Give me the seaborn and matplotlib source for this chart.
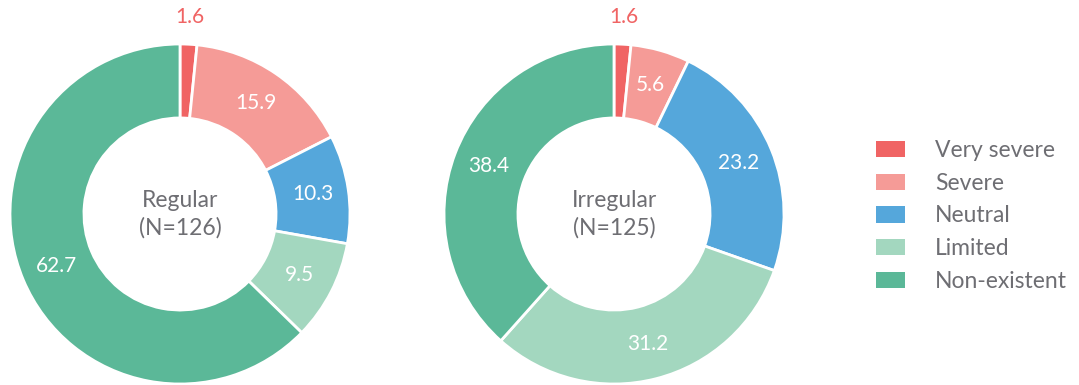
import matplotlib
matplotlib.use("Agg")
import matplotlib.pyplot as plt
import numpy as np
import seaborn as sns
from matplotlib.patches import Patch

# Severity categories and shares (%) for each group
categories = ["Very severe", "Severe", "Neutral", "Limited", "Non-existent"]
regular_values = [1.6, 15.9, 10.3, 9.5, 62.7]
irregular_values = [1.6, 5.6, 23.2, 31.2, 38.4]
group_titles = ["Regular\n(N=126)", "Irregular\n(N=125)"]

colors = ["#F06464", "#F59B97", "#55A7DB", "#A3D7BF", "#5BB898"]
text_gray = "#6E6E73"

sns.set_theme(style="white")
plt.rcParams["font.family"] = ["Lato", "DejaVu Sans"]

W, H = 1079, 385
fig = plt.figure(figsize=(W / 100, H / 100), dpi=100)


def donut(cx, cy, r, values, title):
    ax = fig.add_axes([(cx - r) / W, (H - cy - r) / H, 2 * r / W, 2 * r / H])
    wedges, _ = ax.pie(
        values, colors=colors, startangle=90, counterclock=False,
        radius=1.0, wedgeprops=dict(width=0.435, edgecolor="white", linewidth=2),
    )
    total = sum(values)
    start = 90.0
    for v in values:
        sweep = 360 * v / total
        mid = np.deg2rad(start - sweep / 2)
        start -= sweep
        if v < 3:
            ax.text(1.16 * np.cos(mid), 1.16 * np.sin(mid), f"{v}", ha="center",
                    va="center", color=colors[0], fontsize=15)
        else:
            ax.text(0.79 * np.cos(mid), 0.79 * np.sin(mid), f"{v}", ha="center",
                    va="center", color="white", fontsize=15)
    ax.text(0, 0, title, ha="center", va="center", color=text_gray,
            fontsize=16.5, linespacing=1.35)
    ax.set_xlim(-1, 1)
    ax.set_ylim(-1, 1)
    ax.set_aspect("equal")
    ax.axis("off")


donut(180, 214, 170, regular_values, group_titles[0])
donut(614, 214, 170, irregular_values, group_titles[1])

handles = [Patch(facecolor=c, edgecolor="none") for c in colors]
leg = fig.legend(handles, categories, loc="center left",
                 bbox_to_anchor=(855 / W, 1 - 216 / H), frameon=False,
                 fontsize=16.5, labelcolor=text_gray, handlelength=1.3,
                 handleheight=0.7, handletextpad=1.3, labelspacing=0.52)

fig.savefig("out.png", dpi=100, facecolor="white")
